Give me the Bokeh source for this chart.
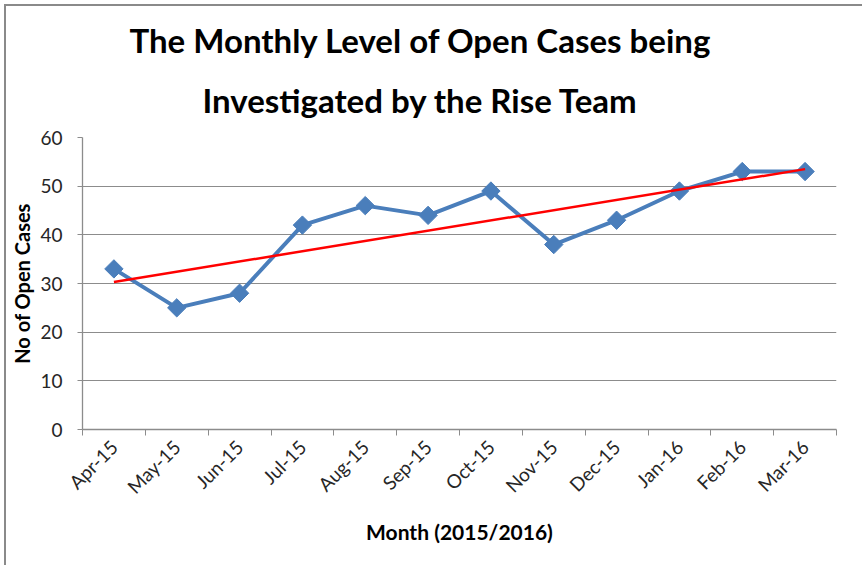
from math import pi
from bokeh.plotting import figure
from bokeh.models import Range1d, FixedTicker, Title
from bokeh.embed import file_html
from bokeh.resources import INLINE

# ---- data ----
months = ["Apr-15", "May-15", "Jun-15", "Jul-15", "Aug-15", "Sep-15",
          "Oct-15", "Nov-15", "Dec-15", "Jan-16", "Feb-16", "Mar-16"]
open_cases = [33, 25, 28, 42, 46, 44, 49, 38, 43, 49, 53, 53]
trend_values = [30.3, 53.5]          # linear trend line, first and last month
y_ticks = [0, 10, 20, 30, 40, 50, 60]

title_lines = ["The Monthly Level of Open Cases being", "Investigated by the Rise Team"]
x_label = "Month (2015/2016)"
y_label = "No of Open Cases"

FONT = "Lato"
BLUE = "#4A7EBB"
GRID = "#8C8C8C"

n = len(months)
x_centers = [i + 0.5 for i in range(n)]
x_bounds = [float(i) for i in range(n + 1)]

p = figure(width=858, height=561, output_backend="svg", toolbar_location=None,
           x_range=Range1d(0, n), y_range=Range1d(0, 60),
           min_border_left=76, min_border_right=28,
           min_border_top=131, min_border_bottom=138,
           background_fill_color="white", border_fill_color="white")
p.outline_line_color = None
p.styles = {"border-left": "2px solid #8a8a8a", "border-top": "2px solid #8a8a8a",
            "margin-left": "4px", "margin-top": "4px"}

# title (two lines, each centred on the chart)
def style_title(t, standoff, offset):
    t.align = "left"
    t.text_font = FONT
    t.text_font_size = "33px"
    t.text_font_style = "bold"
    t.text_color = "black"
    t.offset = offset
    t.standoff = standoff

p.title.text = title_lines[0]
style_title(p.title, 0, 47)
t2 = Title(text=title_lines[1])
style_title(t2, 36, 120)
p.add_layout(t2, "above")

# series
p.line(x_centers, open_cases, line_color=BLUE, line_width=4)
p.scatter(x_centers, open_cases, marker="square", size=13, angle=pi / 4,
          fill_color=BLUE, line_color=BLUE)
p.line([x_centers[0], x_centers[-1]], trend_values, line_color="#FF0000", line_width=2.5)

# x axis: labels at category centres, tick marks at category boundaries
xa = p.xaxis[0]
xa.ticker = FixedTicker(ticks=x_centers, minor_ticks=x_bounds)
xa.major_label_overrides = {x: m for x, m in zip(x_centers, months)}
xa.major_label_orientation = pi / 4
xa.major_tick_out = 0
xa.major_tick_in = 0
xa.minor_tick_out = 6
xa.minor_tick_in = 0
xa.minor_tick_line_color = GRID
xa.axis_line_color = GRID
xa.axis_line_width = 1.3
xa.major_label_text_font = FONT
xa.major_label_text_font_size = "19px"
xa.major_label_text_color = "#262626"
xa.major_label_standoff = 8
xa.axis_label = x_label
xa.axis_label_text_font = FONT
xa.axis_label_text_font_size = "21px"
xa.axis_label_text_font_style = "bold"
xa.axis_label_text_color = "black"
xa.axis_label_standoff = 10

# y axis
ya = p.yaxis[0]
ya.ticker = FixedTicker(ticks=y_ticks)
ya.major_tick_out = 5
ya.major_tick_in = 0
ya.minor_tick_out = 0
ya.minor_tick_in = 0
ya.major_tick_line_color = GRID
ya.axis_line_color = GRID
ya.axis_line_width = 1.3
ya.major_label_text_font = FONT
ya.major_label_text_font_size = "19px"
ya.major_label_text_color = "#262626"
ya.major_label_standoff = 15
ya.axis_label = y_label
ya.axis_label_text_font = FONT
ya.axis_label_text_font_size = "20px"
ya.axis_label_text_font_style = "bold"
ya.axis_label_text_color = "black"
ya.axis_label_standoff = 3

p.xgrid.grid_line_color = None
p.ygrid.grid_line_color = GRID
p.ygrid.grid_line_width = 1.2

open("out.html", "w").write(file_html(p, INLINE))
